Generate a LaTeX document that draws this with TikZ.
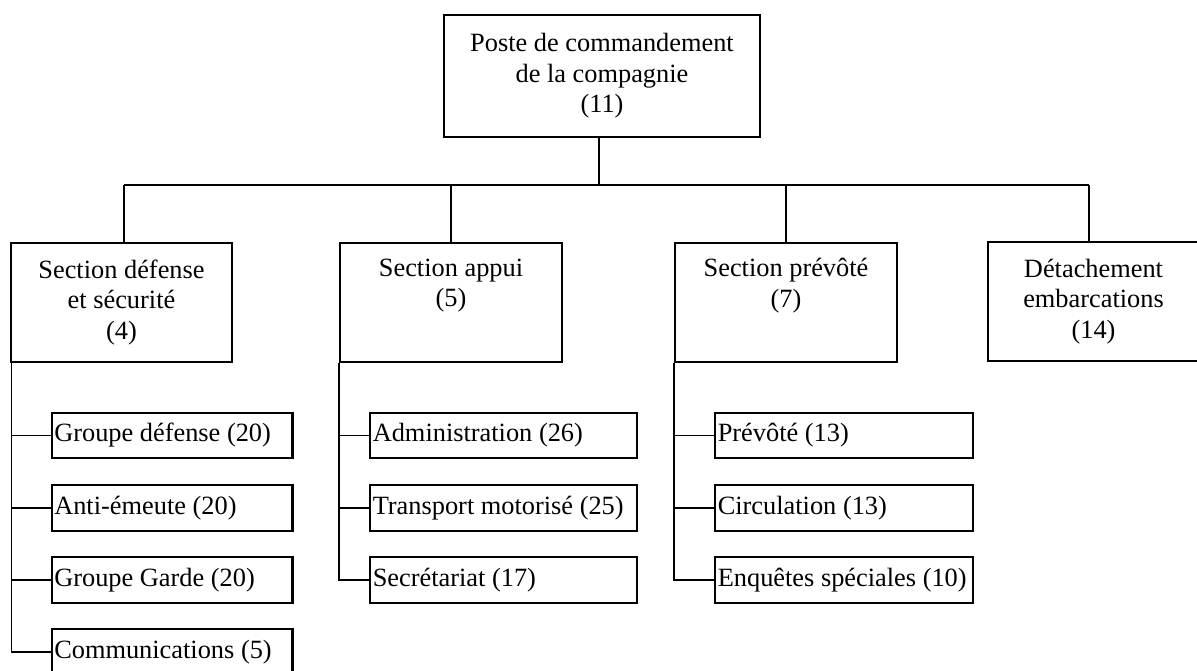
\documentclass[tikz,border=0pt]{standalone}
\usepackage{fontspec}
\setmainfont{Liberation Serif}
\usetikzlibrary{calc}

\begin{document}
\begin{tikzpicture}[
    x=0.2mm, y=-0.2mm,
    font=\fontsize{15}{17.4}\selectfont,
    % boxes
    box/.style={draw, line width=1.3pt, align=center, inner sep=0pt},
    sect/.style={box, minimum width=44.3mm, minimum height=23.8mm},
    kid/.style={draw, line width=1.3pt, anchor=west, align=flush left,
                inner xsep=1.5pt, inner ysep=0pt, minimum height=9.1mm, text width=#1},
    link/.style={draw, line width=0.9pt},
]
\useasboundingbox (0,0) rectangle (1197,670);

% -------------------------
% Command post
% -------------------------
\node[box, minimum width=63.2mm, minimum height=24.4mm] (pc) at (602,76)
  {Poste de commandement\\de la compagnie\\(11)};

\coordinate (bus) at (0,185);

% -------------------------
% Sections
% -------------------------
\node[sect] (sA) at (121.5,302.5) {Section défense\\et sécurité\\(4)};
\node[sect] (sB) at (451,302.5)   {Section appui\\(5)\\\strut};
\node[sect] (sC) at (786,302.5)   {Section prévôté\\(7)\\\strut};
\node[box, minimum width=42.2mm, minimum height=23.8mm] (sD) at (1093.5,301.5)
  {Détachement\\embarcations\\(14)};

\draw[link] ([xshift=-0.6mm]pc.south) -- ([xshift=-0.6mm]pc.south |- bus);
\draw[link] ([xshift=0.5mm]sA.north |- bus) -- ([xshift=-0.9mm]sD.north |- bus);
\draw[link] ([xshift=0.5mm]sA.north) -- ([xshift=0.5mm]sA.north |- bus);
\draw[link] (sB.north) -- (sB.north |- bus);
\draw[link] (sC.north) -- (sC.north |- bus);
\draw[link] ([xshift=-0.9mm]sD.north) -- ([xshift=-0.9mm]sD.north |- bus);

% -------------------------
% Groups under each section
% -------------------------
\node[kid=47.1mm] (a1) at (50.5,435.5) {Groupe défense (20)};
\node[kid=47.1mm] (a2) at (50.5,508)   {Anti-émeute (20)};
\node[kid=47.1mm] (a3) at (50.5,580)   {Groupe Garde (20)};
\node[kid=47.1mm] (a4) at (50.5,652)   {Communications (5)};

\node[kid=52.3mm] (b1) at (369,435.5) {Administration (26)};
\node[kid=52.3mm] (b2) at (369,508)   {Transport motorisé (25)};
\node[kid=52.3mm] (b3) at (369,580)   {Secrétariat (17)};

\node[kid=50.5mm] (c1) at (714,435.5) {Prévôté (13)};
\node[kid=50.5mm] (c2) at (714,508)   {Circulation (13)};
\node[kid=50.5mm] (c3) at (714,580)   {Enquêtes spéciales (10)};

\foreach \k in {a1,a2,a3,a4}{
  \draw[link] ([xshift=0.4mm]sA.south west) |- (\k.west);
}
\foreach \k in {b1,b2,b3}{
  \draw[link] (sB.south west) |- (\k.west);
}
\foreach \k in {c1,c2,c3}{
  \draw[link] (sC.south west) |- (\k.west);
}

\end{tikzpicture}
\end{document}
